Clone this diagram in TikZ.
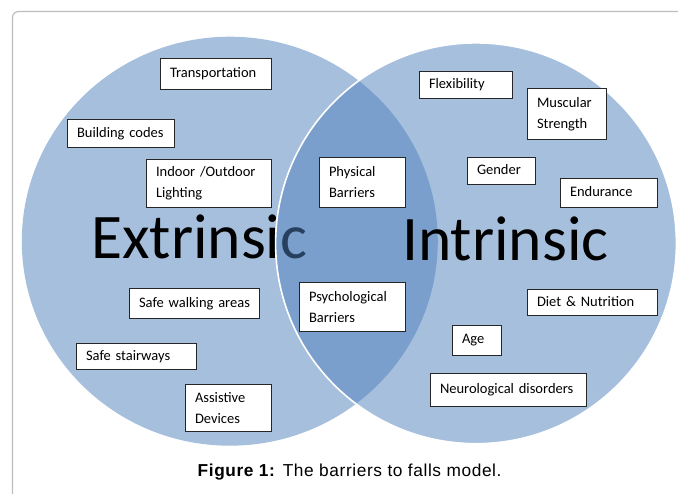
\documentclass[tikz,border=0pt]{standalone}
\usepackage{fontspec}
\setmainfont{Carlito}
\newfontfamily\capfont[LetterSpace=3.5]{Liberation Sans}
\definecolor{vblue}{HTML}{4F81BD}
\definecolor{framegray}{HTML}{BDBDBD}
\tikzset{
  fbox/.style={draw=black!85, line width=1pt, fill=white, inner xsep=9.5pt, inner ysep=0pt,
    align=left, font=\fontsize{14.5pt}{21pt}\selectfont},
  bigword/.style={inner sep=0pt, font=\fontsize{63.5pt}{63.5pt}\selectfont, text=black},
}
\newcommand\fbx[6]{%
  \pgfmathsetmacro\bh{#5-#3}%
  \pgfmathsetmacro\tw{#4-#2-19}%
  \node[fbox, text width=\tw pt, minimum height=\bh pt, anchor=north west] (#1) at (#2,#3) {\vphantom{Ag}#6};}
\begin{document}
\begin{tikzpicture}[x=1pt,y=-1pt]
\useasboundingbox (0,0) rectangle (678,494);
\fill[white] (0,0) rectangle (678,494);
% frame
\draw[framegray, line width=1.2pt, rounded corners=6pt] (12.5,520) -- (12.5,11.5) -- (678,11.5);
% left ellipse
\fill[vblue, fill opacity=0.5] (229.8,241.2) ellipse [x radius=208, y radius=204.5];
\node[bigword, anchor=base west] (ext) at (91,259) {Extrinsic};
% right circle
\path[fill=vblue, fill opacity=0.5, draw=white, line width=1.6pt] (476,243.3) circle [radius=200.4];
\node[bigword, anchor=base west] (int) at (402,261) {Intrinsic};
% boxes
\fbx{trans}{160}{58}{271}{89}{Transportation}
\fbx{build}{67}{119}{174}{147}{Building codes}
\fbx{light}{146}{159}{271}{207}{Indoor /Outdoor\\Lighting}
\fbx{phys}{319}{157}{405}{207}{Physical\\Barriers}
\fbx{flex}{419}{71}{512}{98}{Flexibility}
\fbx{musc}{527}{88}{606}{139}{Muscular\\Strength}
\fbx{gend}{467}{157}{535}{184}{Gender}
\fbx{endu}{560}{178}{657}{207}{Endurance}
\fbx{walk}{129}{288}{259}{318}{Safe walking areas}
\fbx{stair}{76}{343}{196}{369}{Safe stairways}
\fbx{assist}{185}{384}{271}{431}{Assistive\\Devices}
\fbx{psych}{299}{282}{405}{331}{Psychological\\Barriers}
\fbx{diet}{527}{289}{657}{315}{Diet \& Nutrition}
\fbx{age}{452}{325}{501}{355}{Age}
\fbx{neuro}{430}{373}{586}{406}{Neurological disorders}
% caption
\node[inner sep=0pt, anchor=base west, font=\capfont\fontsize{17.3pt}{19pt}\selectfont] (cap) at (197.5,477) {\textbf{Figure 1:} The barriers to falls model.};
\end{tikzpicture}
\end{document}
